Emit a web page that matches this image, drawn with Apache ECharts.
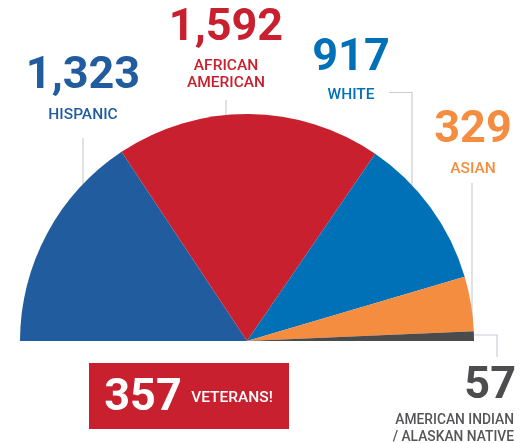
<!DOCTYPE html>
<html><head><meta charset="utf-8">
<script src="https://cdn.jsdelivr.net/npm/echarts@6/dist/echarts.min.js"></script>
<style>html,body{margin:0;padding:0;background:#fff}#c{width:527px;height:443px}</style>
</head><body><div id="c"></div>
<script>
const categories = ['HISPANIC', 'AFRICAN\nAMERICAN', 'WHITE', 'ASIAN', 'AMERICAN INDIAN\n/ ALASKAN NATIVE'];
const values = [1323, 1592, 917, 329, 57];
const colors = ['#215c9e', '#c8202f', '#0071b7', '#f58d40', '#4b4b4d'];
const veterans = 357;
const veteransLabel = 'VETERANS!';

const fmt = v => v.toLocaleString('en-US');
const FONT = 'Roboto, "Noto Sans", sans-serif';
const lineStyle = {stroke: '#c9cdd4', lineWidth: 1.2};

// label positions (annotation layout)
const labelPos = [
  {x: 83, num: 77, name: 106, align: 'center', size: 15.5, lh: 17.5},
  {x: 226, num: 29, name: 57, align: 'center', size: 15.5, lh: 17.5},
  {x: 351, num: 59, name: 86, align: 'center', size: 15.5, lh: 17.5},
  {x: 473, num: 131, name: 160, align: 'center', size: 15.5, lh: 17.5},
  {x: 514, num: 387, name: 412, align: 'right', size: 13.8, lh: 17}
];
const graphics = [];
// leader lines
graphics.push({type: 'polyline', z: 0, shape: {points: [[83, 138], [83, 190]]}, style: lineStyle});
graphics.push({type: 'polyline', z: 0, shape: {points: [[226, 100], [226, 118]]}, style: lineStyle});
graphics.push({type: 'polyline', z: 0, shape: {points: [[389, 92.5], [412, 92.5], [412, 190]]}, style: lineStyle});
graphics.push({type: 'polyline', z: 0, shape: {points: [[472, 183], [472, 320]]}, style: lineStyle});
graphics.push({type: 'polyline', z: 0, shape: {points: [[470, 335], [497, 335], [497, 357]]}, style: lineStyle});

values.forEach((v, i) => {
  const p = labelPos[i];
  const tx = p.align === 'right' ? p.x + 2 : p.x;
  graphics.push({type: 'text', z: 10, x: tx, y: p.num, style: {
    text: fmt(v), fill: i === 4 ? '#4d4d4f' : colors[i], font: 'bold 45px ' + FONT,
    textAlign: p.align, textVerticalAlign: 'middle'}});
  graphics.push({type: 'text', z: 10, x: p.x, y: p.name, style: {
    text: categories[i], fill: i === 4 ? '#555558' : colors[i], font: '500 ' + p.size + 'px ' + FONT,
    textAlign: p.align, textVerticalAlign: 'top', lineHeight: p.lh}});
});
// veterans box
graphics.push({type: 'rect', z: 10, shape: {x: 89, y: 363, width: 200, height: 66}, style: {fill: '#c8202f'}});
graphics.push({type: 'text', z: 11, x: 143, y: 399, style: {text: String(veterans), fill: '#fff', font: 'bold 45px ' + FONT, textAlign: 'center', textVerticalAlign: 'middle'}});
graphics.push({type: 'text', z: 11, x: 232, y: 398, style: {text: veteransLabel, fill: '#fff', font: '500 15.5px ' + FONT, textAlign: 'center', textVerticalAlign: 'middle'}});

const chart = echarts.init(document.getElementById('c'), null, {renderer: 'canvas'});
chart.setOption({
  animation: false,
  series: [{
    type: 'pie',
    center: [247, 341],
    radius: [0, 227],
    startAngle: 180,
    endAngle: 0,
    clockwise: true,
    label: {show: false},
    labelLine: {show: false},
    silent: true,
    itemStyle: {borderWidth: 0},
    data: values.map((v, i) => ({name: categories[i], value: v, itemStyle: {color: colors[i]}}))
  }],
  graphic: graphics
});
</script></body></html>
